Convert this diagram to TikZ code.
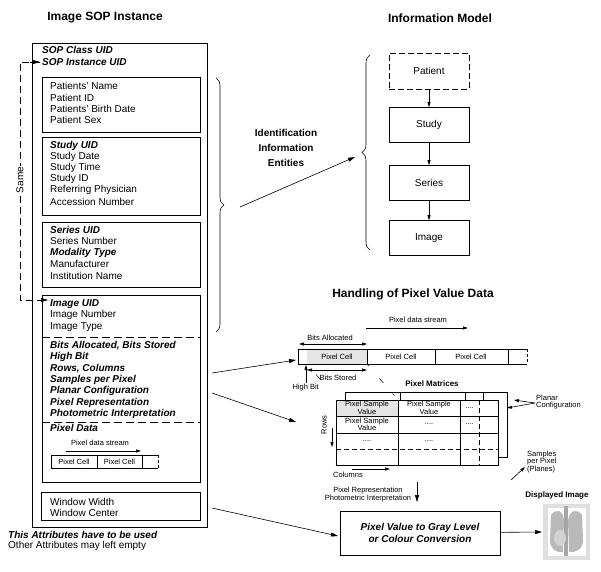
\documentclass[tikz,border=0pt]{standalone}
\usepackage{fontspec}
\setmainfont{Liberation Sans}
\usetikzlibrary{arrows.meta,decorations.pathreplacing}
\begin{document}
\begin{tikzpicture}[x=1pt,y=-1pt,
  t/.style={anchor=west,inner sep=0pt,font=\fontsize{10}{11}\selectfont},
  bt/.style={t,font=\fontsize{10}{11}\selectfont\bfseries\itshape},
  s/.style={inner sep=0pt,font=\fontsize{7.5}{7.5}\selectfont,align=center},
  ttl/.style={inner sep=0pt,font=\fontsize{12}{13}\selectfont\bfseries},
  box/.style={draw,line width=0.6pt},
  arr/.style={-{Triangle[length=7pt,width=4pt]},line width=0.6pt},
  darr/.style={{Triangle[length=5pt,width=3pt]}-{Triangle[length=5pt,width=3pt]},line width=0.6pt},
  sarr/.style={-{Triangle[length=5pt,width=3pt]},line width=0.6pt}]
\useasboundingbox (0,0) rectangle (601,571);
\node[ttl] (t1) at (105,18) {Image SOP Instance};
\node[ttl] (t2) at (440,18) {Information Model};
\node[ttl] (t3) at (413,294) {Handling of Pixel Value Data};
% outer box
\draw[box] (32,43) rectangle (207,527);
\node[bt] (sc) at (42,50) {SOP Class UID};
\node[bt] (si) at (42,62) {SOP Instance UID};
\draw[box] (42,77) rectangle (200,132);
\node[t] at (50,86) {Patients' Name};
\node[t] at (50,98) {Patient ID};
\node[t] at (50,109) {Patients' Birth Date};
\node[t] at (50,120) {Patient Sex};
\draw[box] (42,137) rectangle (200,215);
\node[bt] at (50,146) {Study UID};
\node[t] at (50,157) {Study Date};
\node[t] at (50,168) {Study Time};
\node[t] at (50,179) {Study ID};
\node[t] at (50,190) {Referring Physician};
\node[t] at (50,202) {Accession Number};
\draw[box] (42,222) rectangle (200,287);
\node[bt] at (50,230) {Series UID};
\node[t] at (50,241) {Series Number};
\node[bt] at (50,253) {Modality Type};
\node[t] at (50,264) {Manufacturer};
\node[t] at (50,276) {Institution Name};
\draw[box] (42,295) rectangle (200,482);
\node[bt] (iu) at (50,304) {Image UID};
\node[t] at (50,315) {Image Number};
\node[t] at (50,327) {Image Type};
\draw[dash pattern=on 8pt off 4pt,line width=0.6pt] (42,337) -- (200,337) (42,422) -- (200,422);
\node[bt] at (50,346) {Bits Allocated, Bits Stored};
\node[bt] at (50,357) {High Bit};
\node[bt] at (50,369) {Rows, Columns};
\node[bt] at (50,380) {Samples per Pixel};
\node[bt] at (50,391) {Planar Configuration};
\node[bt] at (50,403) {Pixel Representation};
\node[bt] at (50,414) {Photometric Interpretation};
\node[bt] at (50,428) {Pixel Data};
\node[s] (pds) at (100,443) {Pixel data stream};
\coordinate (pa1) at (66,451); \coordinate (pa2) at (141,451);
\draw[sarr] (pa1) -- (pa2);
\draw[line width=0.5pt] (158,455) -- (51,455) -- (51,468) -- (158,468) (97,455) -- (97,468) (142,455) -- (142,468);
\draw[line width=0.5pt,dash pattern=on 3pt off 2pt] (158,455) -- (158,468);
\node[s] at (74,461.5) {Pixel Cell};
\node[s] at (119.5,461.5) {Pixel Cell};
\draw[box] (41,492) rectangle (200,520);
\node[t] (ww) at (50,502) {Window Width};
\node[t] at (50,513) {Window Center};
\node[bt] at (8,535) {This Attributes have to be used};
\node[t] at (8,546) {Other Attributes may left empty};
% Same
\coordinate (sa) at (20,62); \coordinate (sb) at (20,300);
\coordinate (sae) at (40,62); \coordinate (sbe) at (48,300);
\draw[dash pattern=on 7pt off 4pt,line width=0.6pt] (sae) -- (sa) -- (sb) -- (sbe);
\draw[arr] (30,62) -- (sae);
\draw[arr] (38,300) -- (sbe);
\node[inner sep=1pt,fill=white,rotate=90,font=\fontsize{10}{11}\selectfont] (same) at (20,180) {Same};
% brace left
\draw[line width=0.6pt,decorate,decoration={brace,amplitude=8pt}] (216,78) -- (216,332);
\node[align=center,inner sep=0pt,font=\fontsize{10}{15}\selectfont\bfseries] (iie) at (286,148) {Identification\\Information\\Entities};
\coordinate (b1) at (240,207); \coordinate (b2) at (355,157);
\draw[arr] (b1) -- (b2);
\draw[line width=0.6pt,decorate,decoration={brace,amplitude=8pt,mirror}] (370,55) -- (370,250);
% model
\node[draw,dash pattern=on 6pt off 3pt,line width=0.6pt,minimum width=80pt,minimum height=36pt,font=\fontsize{10}{11}\selectfont] (pat) at (429,71) {Patient};
\node[box,minimum width=80pt,minimum height=35pt,font=\fontsize{10}{11}\selectfont] (stu) at (429,125) {Study};
\node[box,minimum width=80pt,minimum height=35pt,font=\fontsize{10}{11}\selectfont] (ser) at (429,183) {Series};
\node[box,minimum width=80pt,minimum height=35pt,font=\fontsize{10}{11}\selectfont] (img) at (429,238) {Image};
\draw[sarr] (pat) -- (stu); \draw[sarr] (stu) -- (ser); \draw[sarr] (ser) -- (img);
% pixel stream
\node[s] (pds2) at (418,320) {Pixel data stream};
\coordinate (q1) at (366,328); \coordinate (q2) at (468,328);
\draw[sarr] (q1) -- (q2);
\fill[gray!20] (307,349) rectangle (367,364);
\draw[line width=0.6pt] (527,349) -- (298,349) -- (298,364) -- (527,364) (367,349) -- (367,364) (435,349) -- (435,364) (508,349) -- (508,364);
\draw[line width=0.6pt,dash pattern=on 3pt off 2pt] (527,349) -- (527,364);
\node[s] at (337,356.5) {Pixel Cell};
\node[s] at (401,356.5) {Pixel Cell};
\node[s] at (471,356.5) {Pixel Cell};
\node[s] (ba) at (330,338) {Bits Allocated};
\coordinate (ba1) at (299,344); \coordinate (ba2) at (367,344);
\draw[darr] (ba1) -- (ba2);
\node[s] (bs) at (338,378) {Bits Stored};
\coordinate (bs1) at (307,370); \coordinate (bs2) at (367,370);
\draw[darr] (bs1) -- (bs2);
\node[s,anchor=east] (hb) at (319,388) {High Bit};
\coordinate (hb1) at (306,383); \coordinate (hb2) at (306,365);
\draw[sarr] (hb1) -- (hb2);
\draw[dash pattern=on 0pt off 14pt on 7pt off 14pt,line width=0.5pt] (307,364) -- (338,400);
\draw[dash pattern=on 3pt off 16pt on 6pt off 14pt,line width=0.5pt] (367,364) -- (398,400);
% matrices
\node[s,font=\fontsize{8}{9}\selectfont\bfseries] (pm) at (432,384) {Pixel Matrices};
\draw[line width=0.6pt] (345,400) -- (345,392) -- (507,392) -- (507,457) -- (498,457)
  (400,392) -- (400,400) (465,392) -- (465,400) (483,392) -- (483,400);
\fill[gray!20] (336,400) rectangle (398,416);
\draw[line width=0.6pt] (336,400) rectangle (498,465)
  (336,416) -- (498,416) (336,433) -- (498,433) (398,400) -- (398,465) (460,400) -- (460,465);
\draw[line width=0.6pt,dash pattern=on 5pt off 3pt] (336,449) -- (498,449) (479,400) -- (479,465);
\node[s] at (367,408) {Pixel Sample\\Value};
\node[s] at (429,408) {Pixel Sample\\Value};
\node[s] at (367,424.5) {Pixel Sample\\Value};
\node[s] at (469.5,408) {....};
\node[s] at (429,424.5) {....};
\node[s] at (469.5,424.5) {....};
\node[s] at (367,441) {....};
\node[s] at (429,441) {....};
\node[s,rotate=90] (rows) at (324,425) {Rows};
\coordinate (r1) at (332,428); \coordinate (r2) at (332,447);
\draw[sarr] (r1) -- (r2);
\node[s] (cols) at (348,475) {Columns};
\coordinate (c1) at (352,469); \coordinate (c2) at (390,469);
\draw[sarr] (c1) -- (c2);
\node[s,anchor=west,align=left] (pc) at (536,402) {Planar\\Configuration};
\coordinate (pc0) at (535,403); \coordinate (pca) at (507,408); \coordinate (pcb) at (514,400);
\draw[sarr] (pc0) -- (pca); \draw[sarr] (pc0) -- (pcb);
\node[s,anchor=west,align=left] (spp) at (527,462) {Samples\\per Pixel\\(Planes)};
\coordinate (sp1) at (511,480); \coordinate (sp2) at (525,467);
\draw[sarr] (sp1) -- (sp2);
% arrows from left
\coordinate (l1) at (212,373); \coordinate (l1e) at (296,360);
\coordinate (l2) at (212,393); \coordinate (l2e) at (296,422);
\coordinate (l3) at (212,508); \coordinate (l3e) at (338,536);
\draw[arr] (l1) -- (l1e); \draw[arr] (l2) -- (l2e); \draw[arr] (l3) -- (l3e);
\node[s] (prp) at (368,494.5) {Pixel Representation\\Photometric Interpretation};
\coordinate (d1) at (417,482); \coordinate (d2) at (417,502);
\draw[arr] (d1) -- (d2);
\node[box,minimum width=160pt,minimum height=44pt,align=center,font=\fontsize{10}{12}\selectfont\bfseries\itshape] (conv) at (420,533) {Pixel Value to Gray Level\\or Colour Conversion};
\node[s,font=\fontsize{8}{9}\selectfont\bfseries] (di) at (557,495) {Displayed Image};
\coordinate (ximg) at (542,532);
\draw[arr] (conv) -- (ximg);
% x-ray
\fill[gray!25] (543,504) rectangle (590,560);
\fill[white] (548,508) rectangle (586,556);
\fill[gray!55] (551,515) .. controls (556,508) and (563,510) .. (564,520) -- (563,552) .. controls (556,553) and (550,549) .. (550,540) -- cycle;
\fill[gray!55] (582,515) .. controls (577,508) and (570,510) .. (568,520) -- (569,552) .. controls (576,553) and (583,549) .. (583,540) -- cycle;
\fill[gray!70] (564,506) rectangle (568,556);
\fill[gray!35] (560,538) ellipse (6pt and 8pt);
\end{tikzpicture}
\end{document}
